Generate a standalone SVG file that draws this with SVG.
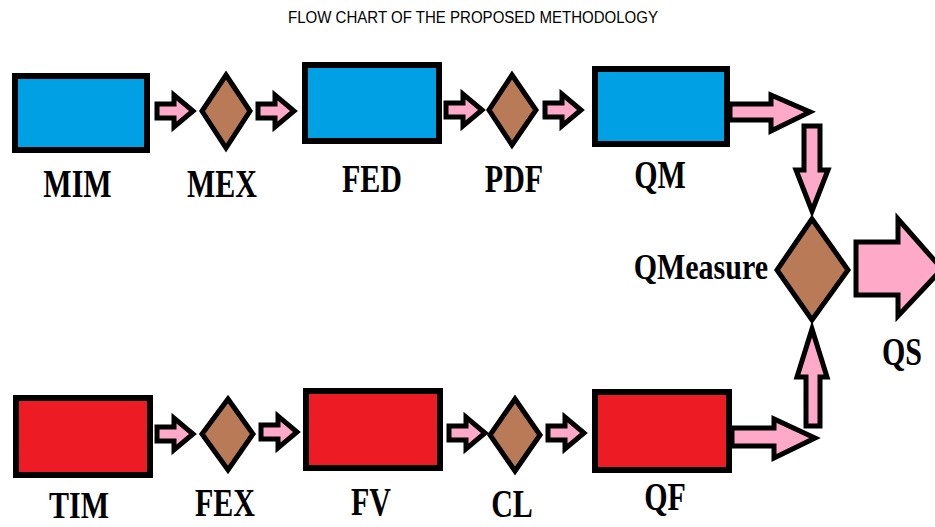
<svg xmlns="http://www.w3.org/2000/svg" xmlns:xlink="http://www.w3.org/1999/xlink" width="935" height="527" viewBox="0 0 935 527">
<style>
.bg{fill:#ffffff}
.box{stroke:#000;stroke-width:6}
.blue{fill:#00a1e4}
.red{fill:#ed1c24}
.dia{fill:#b97a57;stroke:#000;stroke-width:5;stroke-linejoin:miter}
.arr{fill:#ffa9c9;stroke:#000;stroke-width:5;stroke-linejoin:miter}
.lbl{font-family:"Liberation Serif","Times New Roman",serif;font-weight:bold;font-size:30px;fill:#000;text-anchor:middle}
.title{font-family:"Liberation Sans Narrow","Liberation Sans",Arial,sans-serif;font-size:16px;fill:#000;text-anchor:middle}
</style>
<defs>
<path id="sa" d="M2,-7 H19 V-16 L38,0 L19,16 V7 H2 Z"/>
</defs>
<rect class="bg" x="0" y="0" width="935" height="527"/>
<text class="title" x="473" y="23" textLength="370" lengthAdjust="spacingAndGlyphs">FLOW CHART OF THE PROPOSED METHODOLOGY</text>

<g id="connectors">
<use href="#sa" class="arr" x="155" y="111"/>
<use href="#sa" class="arr" x="256" y="111"/>
<use href="#sa" class="arr" x="444" y="110"/>
<use href="#sa" class="arr" x="543" y="110"/>
<use href="#sa" class="arr" x="155" y="434"/>
<use href="#sa" class="arr" x="259" y="432"/>
<use href="#sa" class="arr" x="447" y="433"/>
<use href="#sa" class="arr" x="546" y="433"/>
<path class="arr" d="M730,104 H771 V95 L810,112 L771,131 V120 H730 Z"/>
<path class="arr" d="M732,428 H774 V419 L815,438 L774,458 V446 H732 Z"/>
<path class="arr" d="M804,126 H820 V170 H828 L812,211 L796,170 H804 Z"/>
<path class="arr" d="M806,426 H820 V377 H827 L812,329 L797,377 H806 Z"/>
<path class="arr" d="M856,242 H898 V219 L942,269 L898,316 V295 H856 Z"/>
</g>

<g id="MIM">
<rect class="box blue" x="15" y="76" width="132" height="74"/>
<text class="lbl" transform="translate(77.5,197) scale(1,1.33)">MIM</text>
</g>
<g id="MEX">
<polygon class="dia" points="226,75 250,111 226,148 202,111"/>
<text class="lbl" transform="translate(222,197) scale(1,1.33)">MEX</text>
</g>
<g id="FED">
<rect class="box blue" x="305" y="65" width="134" height="76"/>
<text class="lbl" transform="translate(372,192) scale(1,1.3)">FED</text>
</g>
<g id="PDF">
<polygon class="dia" points="512,75 536,110 512,145 489,110"/>
<text class="lbl" transform="translate(514,192) scale(1,1.33)">PDF</text>
</g>
<g id="QM">
<rect class="box blue" x="595" y="69" width="132" height="75"/>
<text class="lbl" transform="translate(660,188) scale(1,1.33)">QM</text>
</g>
<g id="QMeasure">
<polygon class="dia" points="812,219 848,270 812,320 777,270"/>
<text class="lbl" style="text-anchor:end" transform="translate(768,279) scale(1,1.2)">QMeasure</text>
</g>
<g id="QS">
<text class="lbl" transform="translate(902,365) scale(1,1.3)">QS</text>
</g>
<g id="TIM">
<rect class="box red" x="16" y="398" width="134" height="77"/>
<text class="lbl" transform="translate(79,518) scale(1,1.28)">TIM</text>
</g>
<g id="FEX">
<polygon class="dia" points="228,399 253,434 228,470 202,434"/>
<text class="lbl" transform="translate(225,516) scale(1,1.36)">FEX</text>
</g>
<g id="FV">
<rect class="box red" x="306" y="391" width="134" height="77"/>
<text class="lbl" transform="translate(371,515) scale(1,1.3)">FV</text>
</g>
<g id="CL">
<polygon class="dia" points="515,399 540,435 515,471 490,435"/>
<text class="lbl" transform="translate(512,517) scale(1,1.3)">CL</text>
</g>
<g id="QF">
<rect class="box red" x="595" y="392" width="134" height="78"/>
<text class="lbl" transform="translate(665,510) scale(1,1.33)">QF</text>
</g>
</svg>
